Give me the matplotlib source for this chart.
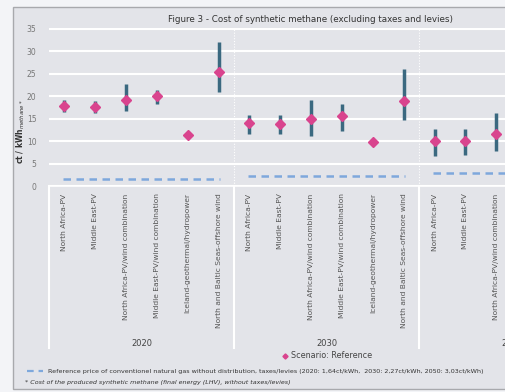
import numpy as np
import matplotlib.pyplot as plt
from matplotlib.patches import Rectangle
import matplotlib.transforms as mtransforms

W, H = 505, 392

categories = ["North Africa-PV", "Middle East-PV", "North Africa-PV/wind combination",
              "Middle East-PV/wind combination", "Iceland-geothermal/hydropower",
              "North and Baltic Seas-offshore wind"]
years = ["2020", "2030", "2050"]

# reference scenario cost with low / high range, ct/kWh
cost_2020 = [17.9, 17.7, 19.3, 20.0, 11.5, 25.4]
low_2020 = [16.6, 16.4, 16.8, 18.4, 11.5, 21.0]
high_2020 = [19.3, 19.0, 22.7, 21.5, 11.5, 32.1]

cost_2030 = [14.0, 13.8, 14.9, 15.6, 9.8, 19.0]
low_2030 = [11.6, 11.6, 11.3, 12.4, 9.8, 14.7]
high_2030 = [15.9, 15.8, 19.3, 18.4, 9.8, 26.1]

cost_2050 = [10.1, 10.1, 11.6]
low_2050 = [6.7, 6.9, 7.9]
high_2050 = [12.8, 12.7, 16.4]

gas_price = [1.64, 2.27, 3.03]

cost = [cost_2020, cost_2030, cost_2050]
low = [low_2020, low_2030, low_2050]
high = [high_2020, high_2030, high_2050]

pink = "#d9448e"
teal = "#3b6980"
blue = "#7ea8dc"
bg = "#e3e4e9"
txt = "#555555"

fig = plt.figure(figsize=(W / 100, H / 100), dpi=100, facecolor="#f3f4f7")
fig.patches.append(Rectangle((13 / W, 3 / H), 600 / W, 382 / H, transform=fig.transFigure,
                             facecolor=bg, edgecolor="#a8a9ad", lw=1.0, zorder=-5))

step = 30.85
left = 64.3 - step / 2
y0, y35 = 186.5, 29.0
ppu = (y0 - y35) / 35
ytop = 35.3
ax = fig.add_axes([left / W, (H - y0) / H, 18 * step / W, ytop * ppu / H])
ax.set_facecolor(bg)
ax.set_xlim(-0.5, 17.5)
ax.set_ylim(0, ytop)

for s in ["top", "right", "left"]:
    ax.spines[s].set_visible(False)
ax.spines["bottom"].set_color("white")
ax.spines["bottom"].set_linewidth(1.2)

ax.set_yticks(np.arange(0, 36, 5))
ax.yaxis.grid(True, color="white", lw=1.5)
ax.set_axisbelow(True)
ax.tick_params(axis="y", length=0, pad=9, labelsize=5.5, labelcolor="#777777")

for x in [5.5, 11.5]:
    ax.axvline(x, color="white", lw=0.8, ls=(0, (1, 1.5)), zorder=1)

for g in range(3):
    xs = np.arange(len(cost[g])) + 6 * g
    c = np.array(cost[g])
    ax.vlines(xs, low[g], high[g], color=teal, lw=2.5, zorder=3)
    ax.plot(xs, c, ls="none", marker="D", ms=5.6, color=pink, zorder=4)
    x_end = 6 * g + 5 if g < 2 else 6 * g + 7
    ax.plot([6 * g - 0.05, x_end + 0.05], [gas_price[g]] * 2, color=blue, lw=1.8,
            ls=(0, (3.0, 2.2)), zorder=3)

ticks = np.arange(18)
ax.set_xticks(ticks)
ax.set_xticklabels(categories * 3, rotation=90, fontsize=5.4, color=txt)
ax.tick_params(axis="x", length=0, pad=5)

trans = mtransforms.blended_transform_factory(ax.transData, ax.transAxes)
sep_bottom = -(348 - y0) / (ytop * ppu)
for x in [-0.5, 5.5, 11.5]:
    ax.plot([x, x], [0, sep_bottom], transform=trans, color="white", lw=1.5, clip_on=False)
for g, yr in enumerate(years):
    ax.text(6 * g + 2.5, -(343 - y0) / (ytop * ppu), yr, transform=trans, ha="center",
            va="center", fontsize=6.0, color="#444444")

ax.set_ylabel("ct / kWh$_{methane*}$", fontsize=5.5, fontweight="bold", color="#333333",
              labelpad=2)
ax.yaxis.set_label_coords(-22 / (18 * step), (y0 - 132) / (ytop * ppu))

fig.text(311 / W, 1 - 20 / H, "Figure 3 - Cost of synthetic methane (excluding taxes and levies)",
         ha="center", va="center", fontsize=6.3, color="#333333")

# legend entries
fig.lines.append(plt.Line2D([285 / W], [1 - 355.5 / H], transform=fig.transFigure, ls="none",
                            marker="D", ms=2.6, color=pink))
fig.text(291 / W, 1 - 355.5 / H, "Scenario: Reference", ha="left", va="center",
         fontsize=5.8, color="#444444")
fig.lines.append(plt.Line2D([27 / W, 43 / W], [1 - 371 / H] * 2, transform=fig.transFigure,
                            color=blue, lw=1.6, ls=(0, (3.0, 2.2))))
fig.text(48 / W, 1 - 371 / H,
         "Reference price of conventionel natural gas without distribution, taxes/levies "
         "(2020: 1,64ct/kWh,  2030: 2,27ct/kWh, 2050: 3,03ct/kWh)",
         ha="left", va="center", fontsize=4.6, color="#333333")
fig.text(25 / W, 1 - 382.5 / H,
         "* Cost of the produced synthetic methane (final energy (LHV), without taxes/levies)",
         ha="left", va="center", fontsize=4.6, style="italic", color="#333333")

fig.savefig("out.png", dpi=100, facecolor=fig.get_facecolor())
